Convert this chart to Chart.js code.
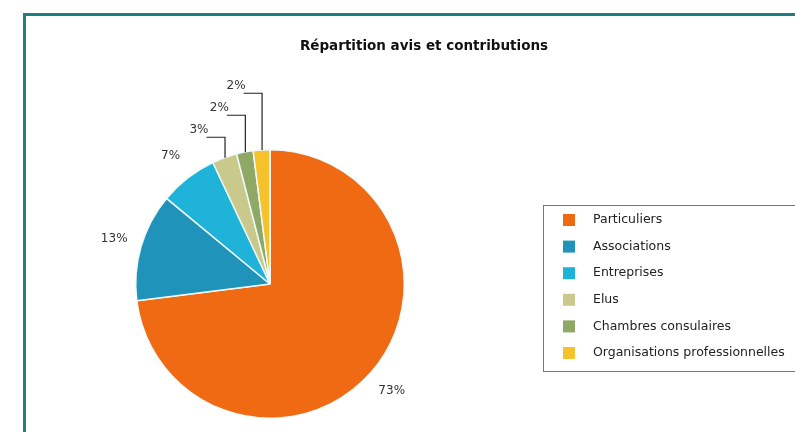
<!DOCTYPE html>
<html>
<head>
<meta charset="utf-8">
<script src="https://cdn.jsdelivr.net/npm/chart.js@4/dist/chart.umd.min.js"></script>
<style>
  html, body { margin: 0; padding: 0; background: #ffffff; }
  #wrap { width: 795px; height: 432px; }
</style>
</head>
<body>
<div id="wrap"><canvas id="pieChart" width="795" height="432"></canvas></div>
<script>
// Données du graphique
const categories = ['Particuliers', 'Associations', 'Entreprises', 'Elus', 'Chambres consulaires', 'Organisations professionnelles'];
const parts = [73, 13, 7, 3, 2, 2];
const couleurs = ['#ef6a12', '#1f93b9', '#20b3da', '#c9c98b', '#8fa866', '#f5c22c'];
const titre = 'Répartition avis et contributions';

// Cadre, titre, étiquettes et légende
const decorPlugin = {
    id: 'decor',
    beforeDraw(chart) {
        const ctx = chart.ctx;
        ctx.save();
        ctx.fillStyle = '#ffffff';
        ctx.fillRect(0, 0, chart.width, chart.height);
        // cadre bleu-vert
        ctx.strokeStyle = '#1f7f80';
        ctx.lineWidth = 3;
        ctx.beginPath();
        ctx.moveTo(24.5, chart.height + 5);
        ctx.lineTo(24.5, 14.5);
        ctx.lineTo(chart.width + 5, 14.5);
        ctx.stroke();
        // titre
        ctx.fillStyle = '#111';
        ctx.font = 'bold 13.5px "DejaVu Sans"';
        ctx.textAlign = 'center';
        ctx.textBaseline = 'middle';
        ctx.fillText(titre, 424, 46);
        ctx.restore();
    },
    afterDraw(chart) {
        const ctx = chart.ctx;
        const arcs = chart.getDatasetMeta(0).data;
        const data = chart.data.datasets[0].data;
        const total = data.reduce((a, b) => a + b, 0);
        ctx.save();
        ctx.font = '12px "DejaVu Sans"';
        ctx.fillStyle = '#333';
        ctx.strokeStyle = '#222';
        ctx.lineWidth = 1.2;
        let k = 0;
        arcs.forEach((arc, i) => {
            const pct = Math.round(data[i] / total * 100) + '%';
            const mid = (arc.startAngle + arc.endAngle) / 2;
            const r = arc.outerRadius;
            if (data[i] / total >= 0.05) {
                const d = r + 28;
                ctx.textAlign = 'center';
                ctx.textBaseline = 'middle';
                ctx.fillText(pct, arc.x + Math.cos(mid) * d, arc.y + Math.sin(mid) * d);
            } else {
                // petites parts : ligne brisée
                const px = arc.x + Math.cos(mid) * r;
                const py = arc.y + Math.sin(mid) * r;
                const ey = arc.y - r - 13 - 22 * k;
                const ex = px - 18;
                ctx.beginPath();
                ctx.moveTo(px + 0.5, py);
                ctx.lineTo(px + 0.5, ey + 0.5);
                ctx.lineTo(ex, ey + 0.5);
                ctx.stroke();
                ctx.textAlign = 'right';
                ctx.textBaseline = 'bottom';
                ctx.fillText(pct, ex + 2, ey - 1);
                k++;
            }
        });

        // légende
        const lx = 543, ly = 205, lh = 166;
        ctx.strokeStyle = '#777';
        ctx.lineWidth = 1;
        ctx.strokeRect(lx + 0.5, ly + 0.5, chart.width, lh);
        ctx.font = '12.5px "DejaVu Sans"';
        ctx.textAlign = 'left';
        ctx.textBaseline = 'middle';
        chart.data.labels.forEach((lab, i) => {
            const y = ly + 15 + i * 26.6;
            ctx.fillStyle = chart.data.datasets[0].backgroundColor[i];
            ctx.fillRect(lx + 20, y - 6, 12, 12);
            ctx.fillStyle = '#222';
            ctx.fillText(lab, lx + 50, y);
        });
        ctx.restore();
    }
};

const pieConfig = {
    type: 'pie',
    data: {
        labels: categories,
        datasets: [{
            data: parts,
            backgroundColor: couleurs,
            borderColor: '#eefafa',
            borderWidth: 1.5,
            hoverOffset: 0
        }]
    },
    options: {
        responsive: false,
        animation: false,
        layout: {
            padding: { left: 135, right: 390, top: 149, bottom: 13 }
        },
        plugins: {
            legend: { display: false },
            title: { display: false },
            tooltip: { enabled: false }
        }
    },
    plugins: [decorPlugin]
};

const pieCtx = document.getElementById('pieChart').getContext('2d');
new Chart(pieCtx, pieConfig);
</script>
</body>
</html>
